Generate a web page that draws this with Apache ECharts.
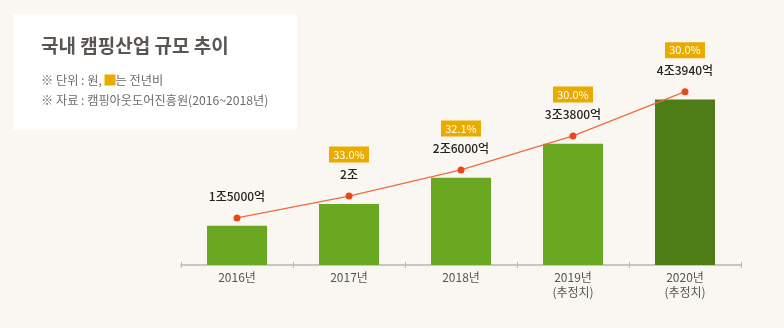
<!DOCTYPE html>
<html>
<head>
<meta charset="utf-8">
<script src="https://cdn.jsdelivr.net/npm/echarts@6/dist/echarts.min.js"></script>
<style>
html,body{margin:0;padding:0;background:#faf7f2;}
#c{width:784px;height:328px;}
</style>
</head>
<body>
<div id="c"></div>
<script>
// ---- data ----
var categories = ['2016년', '2017년', '2018년', '2019년\n(추정치)', '2020년\n(추정치)'];
var values = [1.5, 2.0, 2.6, 3.38, 4.394]; // 조 원
var valueLabels = ['1조5000억', '2조', '2조6000억', '3조3800억', '4조3940억'];
var growth = ['', '33.0%', '32.1%', '30.0%', '30.0%'];
var titleText = '국내 캠핑산업 규모 추이';
var noteUnit = ['※ 단위 : 원, ', '는 전년비'];
var noteSource = '※ 자료 : 캠핑아웃도어진흥원(2016~2018년)';

var FONT = '"Noto Sans CJK KR", "Noto Sans", sans-serif';
var chart = echarts.init(document.getElementById('c'));
chart.setOption({
  backgroundColor: '#faf7f2',
  animation: false,
  textStyle: { fontFamily: FONT },
  grid: { left: 181, right: 43, top: 60, bottom: 63 },
  xAxis: [
    {
      type: 'category',
      data: categories,
      axisLine: { lineStyle: { color: '#c9c5c0', width: 2 } },
      axisTick: { show: true, length: 3, lineStyle: { color: '#b9b5b0', width: 1 } },
      axisLabel: { color: '#555', fontSize: 12, lineHeight: 15, margin: 5, fontFamily: FONT }
    },
    {
      type: 'category',
      data: categories,
      position: 'bottom',
      axisLine: { show: false },
      axisTick: { show: true, inside: true, length: 3, lineStyle: { color: '#b9b5b0', width: 1 } },
      axisLabel: { show: false }
    }
  ],
  yAxis: [
    { type: 'value', min: 0.6, max: 5.3, show: false },
    { type: 'value', min: 0.42, max: 5.12, show: false }
  ],
  series: [
    {
      type: 'bar',
      data: values,
      barWidth: 60,
      itemStyle: {
        color: function (p) { return p.dataIndex === values.length - 1 ? '#4e7d16' : '#6aa821'; }
      }
    },
    {
      type: 'line',
      yAxisIndex: 1,
      data: values,
      symbol: 'circle',
      symbolSize: 7,
      z: 5,
      lineStyle: { color: '#ef6b3d', width: 1.2 },
      itemStyle: { color: '#e8491b' },
      label: {
        show: true,
        position: 'top',
        distance: 6,
        fontFamily: FONT,
        formatter: function (p) {
          var g = growth[p.dataIndex];
          var v = '{v|' + valueLabels[p.dataIndex] + '}';
          return g ? '{p|' + g + '}\n' + v : v;
        },
        rich: {
          p: {
            backgroundColor: '#e9ab00', color: '#fff', fontSize: 11,
            width: 40, height: 16, lineHeight: 16, align: 'center', fontFamily: FONT
          },
          v: { color: '#222', fontSize: 12, lineHeight: 24, fontWeight: 500, align: 'center', fontFamily: FONT }
        }
      }
    }
  ],
  graphic: [
    { type: 'rect', shape: { x: 13, y: 14, width: 284, height: 116, r: 3 }, style: { fill: '#ffffff' }, z: 0 },
    { type: 'text', x: 41, y: 46, style: { text: titleText, font: 'bold 19px ' + FONT, fill: '#5a5550', textVerticalAlign: 'middle' }, z: 1 },
    { type: 'text', x: 41, y: 80, style: {
        text: '{a|' + noteUnit[0] + '}{sq| }{a|' + noteUnit[1] + '}',
        textVerticalAlign: 'middle',
        rich: {
          a: { fontSize: 12.2, fill: '#6f6a66', color: '#6f6a66', fontFamily: FONT },
          sq: { backgroundColor: '#e9ab00', width: 11, height: 11 }
        }
      }, z: 1 },
    { type: 'text', x: 41, y: 100, style: { text: noteSource, font: '12.2px ' + FONT, fill: '#6f6a66', textVerticalAlign: 'middle' }, z: 1 }
  ]
});
</script>
</body>
</html>
